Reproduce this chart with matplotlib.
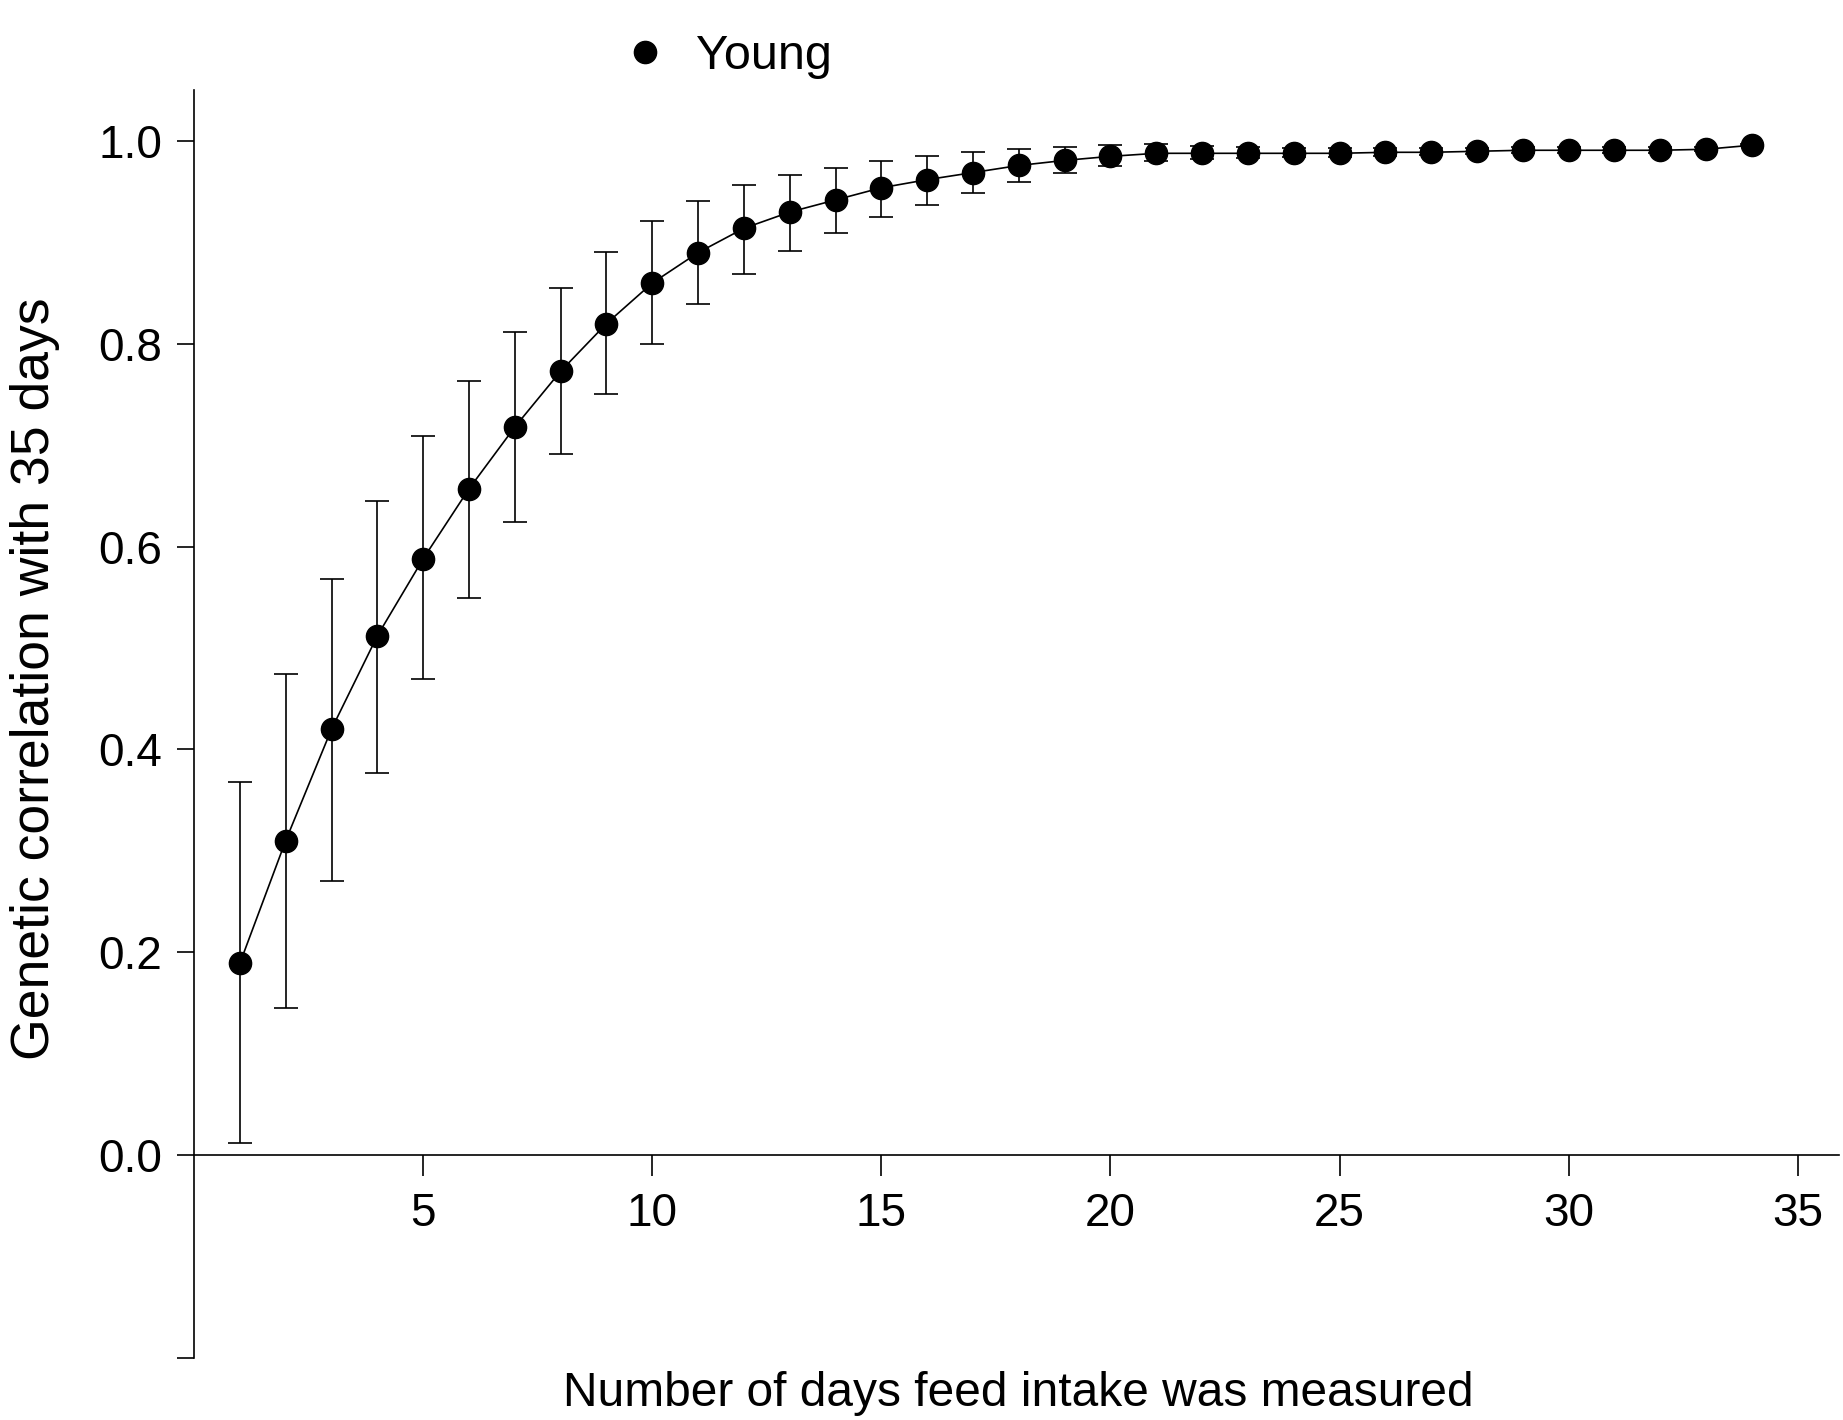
import matplotlib
matplotlib.use('Agg')
import matplotlib.pyplot as plt
from matplotlib.lines import Line2D
import numpy as np

plt.rcParams['font.family'] = ['Liberation Sans', 'DejaVu Sans']

days = np.arange(1, 35)
corr = [0.189, 0.310, 0.420, 0.512, 0.588, 0.657, 0.718, 0.773, 0.820, 0.860,
        0.890, 0.914, 0.930, 0.942, 0.954, 0.962, 0.969, 0.976, 0.981, 0.985,
        0.988, 0.988, 0.988, 0.988, 0.988, 0.989, 0.989, 0.990, 0.991, 0.991,
        0.991, 0.991, 0.992, 0.996]
err_hi = [0.368, 0.474, 0.568, 0.645, 0.709, 0.763, 0.812, 0.855, 0.891, 0.921,
          0.941, 0.957, 0.967, 0.974, 0.980, 0.985, 0.989, 0.992, 0.994, 0.996,
          0.997, 0.995, 0.994, 0.993, 0.993, 0.993, 0.993, 0.993, 0.994, 0.994,
          0.994, 0.994, 0.994, 0.997]
err_lo = [0.012, 0.145, 0.270, 0.377, 0.469, 0.549, 0.624, 0.691, 0.751, 0.800,
          0.839, 0.869, 0.892, 0.909, 0.925, 0.937, 0.949, 0.960, 0.969, 0.975,
          0.980, 0.982, 0.983, 0.984, 0.984, 0.985, 0.986, 0.987, 0.988, 0.988,
          0.988, 0.988, 0.990, 0.995]

corr = np.array(corr)
yerr = [corr - np.array(err_lo), np.array(err_hi) - corr]

fig = plt.figure(figsize=(18.43, 14.2), dpi=100)
ax = fig.add_axes([0.1053, 0.0439, 0.8925, 0.8924])

ax.errorbar(days, corr, yerr=yerr, fmt='none', ecolor='black',
            elinewidth=1.2, capsize=8.5, capthick=1.2)
ax.plot(days, corr, color='black', lw=1.2, marker='o', markersize=16)

ax.set_xlim(0, 35.9)
ax.set_ylim(-0.2, 1.05)
ax.spines['top'].set_visible(False)
ax.spines['right'].set_visible(False)
ax.spines['bottom'].set_position(('data', 0))
for s in ('left', 'bottom'):
    ax.spines[s].set_linewidth(1.2)

ax.set_xticks([5, 10, 15, 20, 25, 30, 35])
ax.set_yticks([-0.2, 0.0, 0.2, 0.4, 0.6, 0.8, 1.0])
ax.set_yticklabels(['', '0.0', '0.2', '0.4', '0.6', '0.8', '1.0'])
ax.tick_params(axis='x', length=15, width=1.2, labelsize=33, pad=12)
ax.tick_params(axis='y', length=12, width=1.2, labelsize=33, pad=11)

fig.text(0.5524, 0.019, 'Number of days feed intake was measured',
         ha='center', va='center', fontsize=34.5)
fig.text(0.019, 0.522, 'Genetic correlation with 35 days',
         ha='center', va='center', rotation=90, fontsize=38.5)

handle = Line2D([], [], color='black', linestyle='none', marker='o',
                markersize=16)
ax.legend([handle], ['Young'], loc='center left',
          bbox_to_anchor=(0.3234, 0.9605), bbox_transform=fig.transFigure,
          frameon=False, fontsize=35, handlelength=1.0, handletextpad=0.55,
          borderpad=0)

fig.savefig('out.png', dpi=100)
